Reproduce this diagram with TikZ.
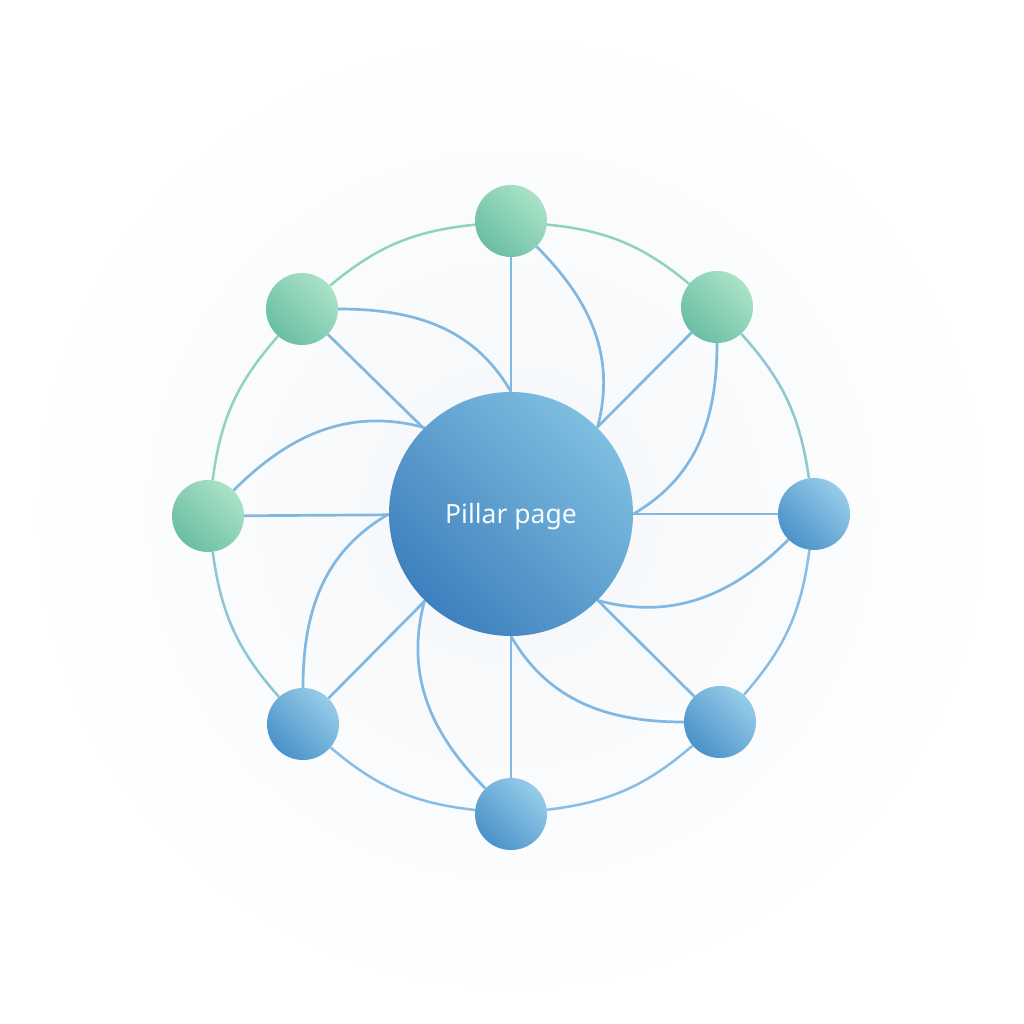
\documentclass[tikz,border=0pt]{standalone}
\usepackage{fontspec}
\setmainfont{Noto Sans}
\usepackage{xcolor}
\usepackage{tikz}
\usetikzlibrary{shapes,arrows,positioning}

\definecolor{greenlight}{RGB}{170,226,198}
\definecolor{greendark}{RGB}{106,190,164}
\definecolor{bluelight}{RGB}{150,204,232}
\definecolor{bluedark}{RGB}{74,146,202}
\definecolor{pillarlight}{RGB}{126,190,224}
\definecolor{pillardark}{RGB}{62,128,190}
\definecolor{linkblue}{RGB}{128,184,226}
\definecolor{ringgreen}{RGB}{144,212,184}
\definecolor{ringblue}{RGB}{134,190,228}

\pgfdeclarelayer{bg}
\pgfdeclarelayer{lines}
\pgfsetlayers{bg,lines,main}

\tikzstyle{cluster} = [circle,minimum size=72pt,inner sep=0pt]
\tikzstyle{greennode} = [cluster,top color=greenlight,bottom color=greendark,shading angle=-45]
\tikzstyle{bluenode} = [cluster,top color=bluelight,bottom color=bluedark,shading angle=-45]
\tikzstyle{spoke} = [line width=2.7pt,linkblue]
\tikzstyle{swirl} = [spoke,looseness=1]
\tikzstyle{ring} = [line width=2.5pt,bend left=17]

\begin{document}
\begin{tikzpicture}[x=1pt,y=1pt]
        \useasboundingbox (-511,-510) rectangle (513,514);
        % Define nodes
        \node[circle,
        minimum size=244pt,
        inner sep=0pt,
        top color=pillarlight,
        bottom color=pillardark,
        shading angle=-45,
        text=white!94!pillarlight,
        text height=19pt,
        text depth=0pt,
        font=\fontsize{26.5}{30}\selectfont] (pillar) at (0,0) {Pillar page};

        \node[greennode] (top) at (0,293) {};
        \node[greennode] (topright) at (206,207) {};
        \node[bluenode] (right) at (303,0) {};
        \node[bluenode] (bottomright) at (209,-208) {};
        \node[bluenode] (bottom) at (0,-300) {};
        \node[bluenode] (bottomleft) at (-208,-210) {};
        \node[greennode] (left) at (-303,-2) {};
        \node[greennode] (topleft) at (-209,205) {};

        \begin{pgfonlayer}{bg}
        \shade[inner color={rgb,255:red,243;green,246;blue,249},outer color=white] (0,0) circle (500);
        \end{pgfonlayer}

        \begin{pgfonlayer}{lines}
        % outer ring
        \draw [ring,ringgreen] (topleft) to (top);
        \draw [ring,ringgreen] (top) to (topright);
        \draw [ring,ringgreen!50!ringblue] (topright) to (right);
        \draw [ring,ringblue] (right) to (bottomright);
        \draw [ring,ringblue] (bottomright) to (bottom);
        \draw [ring,ringblue] (bottom) to (bottomleft);
        \draw [ring,ringblue!60!ringgreen] (bottomleft) to (left);
        \draw [ring,ringgreen] (left) to (topleft);

        % spokes
        \draw [spoke] (pillar) -- (top);
        \draw [spoke] (pillar) -- (topright);
        \draw [spoke] (pillar) -- (right);
        \draw [spoke] (pillar) -- (bottomright);
        \draw [spoke] (pillar) -- (bottom);
        \draw [spoke] (pillar) -- (bottomleft);
        \draw [spoke] (pillar) -- (left);
        \draw [spoke] (pillar) -- (topleft);

        % swirl links
        \draw [swirl] (top) to[out=-45,in=75] (pillar.45);
        \draw [swirl] (topright) to[out=-90,in=30] (pillar.0);
        \draw [swirl] (right) to[out=-135,in=-15] (pillar.-45);
        \draw [swirl] (bottomright) to[out=180,in=-60] (pillar.-90);
        \draw [swirl] (bottom) to[out=135,in=-105] (pillar.-135);
        \draw [swirl] (bottomleft) to[out=90,in=-150] (pillar.180);
        \draw [swirl] (left) to[out=45,in=165] (pillar.135);
        \draw [swirl] (topleft) to[out=0,in=120] (pillar.90);
        \end{pgfonlayer}
\end{tikzpicture}
\end{document}
